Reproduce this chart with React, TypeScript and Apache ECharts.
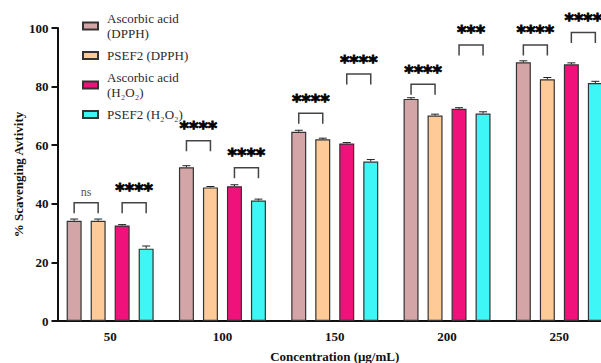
import React, { useEffect, useRef } from "react";
import * as echarts from "echarts";

// Concentrations (µg/mL) on the x axis
const categories = ["50", "100", "150", "200", "250"];

// % scavenging activity, mean values
const ascorbicDPPH = [34.2, 52.5, 64.6, 75.8, 88.3];
const psefDPPH = [34.2, 45.6, 62.0, 70.1, 82.5];
const ascorbicH2O2 = [32.6, 46.0, 60.6, 72.4, 87.6];
const psefH2O2 = [24.7, 41.1, 54.4, 70.8, 81.2];

// Standard deviations
const errAscorbicDPPH = [0.6, 0.5, 0.5, 0.4, 0.5];
const errPsefDPPH = [0.6, 0.3, 0.4, 0.5, 0.6];
const errAscorbicH2O2 = [0.3, 0.5, 0.3, 0.4, 0.5];
const errPsefH2O2 = [0.9, 0.5, 0.7, 0.6, 0.6];

// Significance brackets: [DPPH pair, H2O2 pair] per concentration
const bracketLevels = [
  [40.4, 40.4],
  [61.5, 52.3],
  [70.9, 84.3],
  [80.8, 94.2],
  [94.2, 98.5],
];
const bracketLabels = [
  ["ns", "****"],
  ["****", "****"],
  ["****", "****"],
  ["****", "***"],
  ["****", "****"],
];

const seriesNames = [
  "Ascorbic acid\n(DPPH)",
  "PSEF2 (DPPH)",
  "Ascorbic acid\n(H₂O₂)",
  "PSEF2 (H₂O₂)",
];
const seriesColors = ["#D4A5A6", "#FECB98", "#F0127A", "#3FF6F6"];

const BAR_WIDTH = 15;
const BAR_PITCH = 24; // bar width + gap
const SERIF = "'Liberation Serif', 'DejaVu Serif', serif";

export default function App() {
  const ref = useRef<HTMLDivElement>(null);

  useEffect(() => {
    if (!ref.current) return;
    const chart = echarts.init(ref.current, null, { renderer: "svg" });

    const values = [ascorbicDPPH, psefDPPH, ascorbicH2O2, psefH2O2];
    const errors = [errAscorbicDPPH, errPsefDPPH, errAscorbicH2O2, errPsefH2O2];

    const errData: number[][] = [];
    values.forEach((vals, s) =>
      vals.forEach((v, i) => errData.push([i, s, v, errors[s][i]]))
    );

    const bracketData: any[] = [];
    bracketLevels.forEach((pair, i) =>
      pair.forEach((lvl, p) =>
        bracketData.push({ value: [i, p, lvl], label: bracketLabels[i][p] })
      )
    );

    const barSeries = values.map((vals, s) => ({
      type: "bar",
      name: seriesNames[s],
      data: vals,
      barWidth: BAR_WIDTH,
      barGap: "60%",
      itemStyle: {
        color: seriesColors[s],
        borderColor: "#333",
        borderWidth: 1.2,
      },
    }));

    const option: any = {
      animation: false,
      backgroundColor: "#fff",
      legend: {
        orient: "vertical",
        left: 82,
        top: 11,
        padding: 0,
        itemWidth: 15,
        itemHeight: 7,
        itemGap: 7,
        icon: "rect",
        data: seriesNames,
        textStyle: {
          fontFamily: SERIF,
          fontSize: 13,
          lineHeight: 15,
          color: "#2a2a2a",
          padding: [0, 0, 0, 4],
        },
      },
      grid: {
        left: 54,
        right: 4.5,
        top: 28,
        bottom: 42,
        outerBoundsMode: "none",
        containLabel: false,
      },
      xAxis: {
        type: "category",
        data: categories,
        name: "Concentration (μg/mL)",
        nameLocation: "middle",
        nameGap: 29,
        nameMoveOverlap: false,
        nameTextStyle: {
          fontFamily: SERIF,
          fontWeight: "bold",
          fontSize: 13,
          color: "#111",
        },
        axisLine: { lineStyle: { color: "#111", width: 2 } },
        axisTick: { alignWithLabel: true, length: 6, lineStyle: { color: "#111", width: 2 } },
        axisLabel: {
          fontFamily: SERIF,
          fontWeight: "bold",
          fontSize: 13,
          color: "#111",
          margin: 9,
        },
      },
      yAxis: {
        type: "value",
        min: 0,
        max: 100,
        interval: 20,
        offset: -3.5,
        name: "% Scavenging Avtivity",
        nameLocation: "middle",
        nameGap: 33,
        nameMoveOverlap: false,
        nameTextStyle: {
          fontFamily: SERIF,
          fontWeight: "bold",
          fontSize: 13,
          color: "#111",
        },
        splitLine: { show: false },
        axisLine: { show: true, lineStyle: { color: "#111", width: 2 } },
        axisTick: { show: true, length: 6, lineStyle: { color: "#111", width: 2 } },
        axisLabel: {
          fontFamily: SERIF,
          fontWeight: "bold",
          fontSize: 13,
          color: "#111",
          margin: 9,
        },
      },
      series: [
        ...barSeries,
        {
          type: "custom",
          name: "errors",
          data: errData,
          z: 5,
          clip: false,
          encode: { x: 0, y: 2 },
          renderItem: (params: any, api: any) => {
            const cat = api.value(0);
            const s = api.value(1);
            const v = api.value(2);
            const e = api.value(3);
            const dx = (s - 1.5) * BAR_PITCH;
            const base = api.coord([cat, v]);
            const top = api.coord([cat, v + e]);
            const x = base[0] + dx;
            const style = { stroke: "#222", lineWidth: 1 };
            return {
              type: "group",
              children: [
                { type: "line", shape: { x1: x, y1: base[1], x2: x, y2: top[1] }, style },
                { type: "line", shape: { x1: x - 4, y1: top[1], x2: x + 4, y2: top[1] }, style },
              ],
            };
          },
        },
        {
          type: "custom",
          name: "significance",
          data: bracketData,
          z: 6,
          clip: false,
          encode: { x: 0, y: 2 },
          renderItem: (params: any, api: any) => {
            const cat = api.value(0);
            const p = api.value(1);
            const lvl = api.value(2);
            const item = bracketData[params.dataIndex];
            const c = api.coord([cat, lvl]);
            const x1 = c[0] + (p === 0 ? -1.5 : 0.5) * BAR_PITCH;
            const x2 = x1 + BAR_PITCH;
            const y = c[1];
            const legs = 10.5;
            const isNs = item.label === "ns";
            return {
              type: "group",
              children: [
                {
                  type: "polyline",
                  shape: {
                    points: [
                      [x1, y + legs],
                      [x1, y],
                      [x2, y],
                      [x2, y + legs],
                    ],
                  },
                  style: { stroke: "#444", lineWidth: 1.5, fill: null },
                },
                {
                  type: "text",
                  x: (x1 + x2) / 2,
                  y: isNs ? y - 11 : y - 4,
                  style: isNs
                    ? {
                        text: item.label,
                        fontFamily: SERIF,
                        fontSize: 12,
                        fill: "#555",
                        align: "center",
                        verticalAlign: "middle",
                      }
                    : {
                        text: item.label,
                        fontFamily: "'DejaVu Sans', sans-serif",
                        fontWeight: "bold",
                        fontSize: 18,
                        fill: "#000",
                        stroke: "#000",
                        lineWidth: 0.8,
                        align: "center",
                        verticalAlign: "bottom",
                      },
                },
              ],
            };
          },
        },
      ],
    };

    chart.setOption(option);
    return () => chart.dispose();
  }, []);

  return (
    <div
      style={{
        position: "fixed",
        left: 0,
        top: 0,
        width: 601,
        height: 363,
        overflow: "hidden",
        background: "#fff",
      }}
    >
      <div ref={ref} style={{ width: 620, height: 363 }} />
    </div>
  );
}
